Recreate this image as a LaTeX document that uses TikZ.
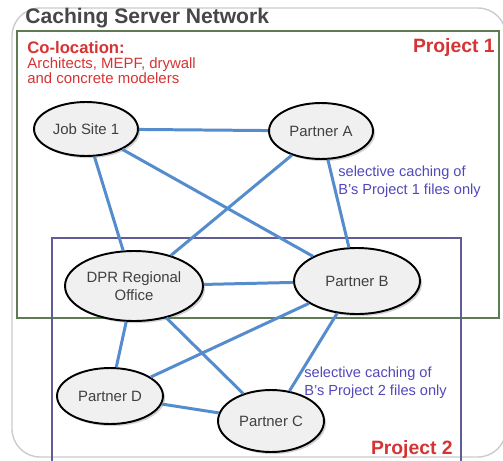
\documentclass[tikz,border=0pt]{standalone}
\usepackage{fontspec}
\setmainfont{Liberation Sans}
\usepackage{tikz}
\usetikzlibrary{positioning,shapes.geometric,shadows}
\definecolor{LinkBlue}{RGB}{84,140,206}
\definecolor{ProjGreen}{RGB}{96,122,82}
\definecolor{ProjPurple}{RGB}{96,92,150}
\definecolor{NoteRed}{RGB}{214,52,52}
\definecolor{NoteBlue}{RGB}{82,72,186}
\tikzset{
    site/.style={ellipse, draw=black, line width=1.1pt, fill=gray!12, inner sep=0pt,
        drop shadow={shadow xshift=1.2pt, shadow yshift=-1.2pt, opacity=0.35},
        font=\fontsize{8.5}{10}\selectfont, text=black!75, align=center},
    link/.style={draw=LinkBlue, line width=1.7pt},
    projbox/.style={line width=1.1pt}
}

\begin{document}
\begin{tikzpicture}[x=0.02cm, y=-0.02cm,
                note/.style={text=NoteBlue, font=\fontsize{8.3}{10}\selectfont, align=left, anchor=north west, inner sep=0pt}
            ]
                \useasboundingbox (0,0) rectangle (503,460);
                \fill[white] (0,0) rectangle (503,460);
                \draw[gray!40, line width=0.8pt, rounded corners=16pt] (12,8) rectangle (506,457);

                % project frames
                \draw[projbox, ProjGreen] (17,31) rectangle (499,318);
                \draw[projbox, ProjPurple] (52,238) rectangle (461,475);

                \node[anchor=west, inner sep=0pt, text=black!72, font=\fontsize{12}{14}\selectfont\bfseries] (title) at (25,18) {Caching Server Network};
                \node[anchor=north west, inner sep=0pt, text=NoteRed, font=\fontsize{9.5}{11}\selectfont\bfseries] (coloc) at (27,41) {Co-location:};
                \node[anchor=north west, inner sep=0pt, text=NoteRed, align=left, font=\fontsize{8.5}{9}\selectfont] (trades) at (27,57) {Architects, MEPF, drywall\\and concrete modelers};
                \node[anchor=east, inner sep=0pt, text=NoteRed, font=\fontsize{11}{13}\selectfont\bfseries] (proj1) at (495,47) {Project 1};
                \node[anchor=east, inner sep=0pt, text=NoteRed, font=\fontsize{11}{13}\selectfont\bfseries] (proj2) at (453,449) {Project 2};

                \node[site, minimum width=2.08cm, minimum height=1.08cm] (J1) at (86,129) {Job Site 1};
                \node[site, minimum width=2.08cm, minimum height=1.12cm] (PA) at (321,131) {Partner A};
                \node[site, minimum width=2.76cm, minimum height=1.4cm] (DPR) at (134,286) {DPR Regional\\Office};
                \node[site, minimum width=2.52cm, minimum height=1.32cm] (PB) at (357,281) {Partner B};
                \node[site, minimum width=2.12cm, minimum height=1.12cm] (PD) at (110,396) {Partner D};
                \node[site, minimum width=2.12cm, minimum height=1.24cm] (PC) at (271,421) {Partner C};

                \node[note] (cache1) at (338,166) {selective caching of\\B's Project 1 files only};
                \node[note] (cache2) at (304,367) {selective caching of\\B's Project 2 files only};

                \draw[link] (J1) -- (PA);
                \draw[link] (J1) -- (DPR);
                \draw[link] (J1) -- (PB);
                \draw[link] (PA) -- (DPR);
                \draw[link] (PA) -- (PB);
                \draw[link] (DPR) -- (PB);
                \draw[link] (DPR) -- (PD);
                \draw[link] (DPR) -- (PC);
                \draw[link] (PB) -- (PD);
                \draw[link] (PB) -- (PC);
                \draw[link] (PD) -- (PC);
            \end{tikzpicture}
\end{document}
